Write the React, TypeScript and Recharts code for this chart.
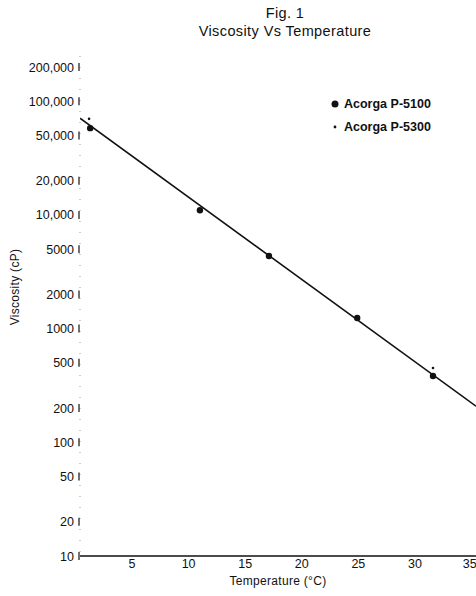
import { Scatter, ScatterChart, XAxis, YAxis } from "recharts";

// values
const TEMPS_5100 = [1.3, 11.0, 17.1, 24.9, 31.6];
const VISC_5100 = [58000, 11000, 4350, 1240, 383];
const TEMPS_5300 = [1.2, 31.6];
const VISC_5300 = [70000, 450];
const FIT_TEMPS = [0.4, 35.4];
const FIT_VISC = [71000, 208];

const X_TICKS = [5, 10, 15, 20, 25, 30, 35];
const Y_TICKS = [10, 20, 50, 100, 200, 500, 1000, 2000, 5000, 10000, 20000, 50000, 100000, 200000];
const Y_TICK_LABELS = ["10", "20", "50", "100", "200", "500", "1000", "2000", "5000", "10,000", "20,000", "50,000", "100,000", "200,000"];
const SERIES_NAMES = ["Acorga P-5100", "Acorga P-5300"];

const toRows = (xs: number[], ys: number[]) => xs.map((t, i) => ({ t, v: ys[i] }));

const FONT = "'Liberation Sans', Arial, sans-serif";
const INK = "#111";

function YTick({ x, y, payload }: any) {
  const idx = Y_TICKS.indexOf(payload.value);
  return (
    <g>
      <text x={x - 6} y={y} dy={4.5} textAnchor="end" fontSize={12.5} fill={INK} fontFamily={FONT}>
        {Y_TICK_LABELS[idx]}
      </text>
      <line x1={x - 1} x2={x - 1} y1={y - 4} y2={y + 4} stroke={INK} strokeWidth={1.2} />
    </g>
  );
}

function Dot5100({ cx, cy }: any) {
  return <circle cx={cx} cy={cy} r={3.2} fill={INK} />;
}

function Dot5300({ cx, cy }: any) {
  return <circle cx={cx} cy={cy} r={1.3} fill={INK} />;
}

function NoDot() {
  return <g />;
}

function LegendBox() {
  return (
    <div style={{ position: "absolute", left: 330, top: 92, fontSize: 12.5, fontWeight: "bold", color: INK }}>
      {SERIES_NAMES.map((name, i) => (
        <div key={name} style={{ display: "flex", alignItems: "center", height: 23 }}>
          <svg width={14} height={10}>
            <circle cx={5} cy={5} r={i === 0 ? 3.5 : 1.4} fill={INK} />
          </svg>
          <span>{name}</span>
        </div>
      ))}
    </div>
  );
}

export default function App() {
  return (
    <div style={{ position: "absolute", left: 0, top: 0, width: 476, height: 596, background: "#fff", fontFamily: FONT, color: INK }}>
      <div style={{ position: "absolute", left: 0, width: 570, top: 5, textAlign: "center", fontSize: 14.5, letterSpacing: 0.4 }}>Fig. 1</div>
      <div style={{ position: "absolute", left: 0, width: 570, top: 23, textAlign: "center", fontSize: 14.5, letterSpacing: 0.4 }}>
        Viscosity Vs Temperature
      </div>
      <div
        style={{
          position: "absolute",
          left: 15,
          top: 287,
          transform: "translate(-50%, -50%) rotate(-90deg)",
          whiteSpace: "nowrap",
          fontSize: 12,
          letterSpacing: 0.3,
        }}
      >
        Viscosity (cP)
      </div>
      <div style={{ position: "absolute", left: 0, width: 556, top: 574, textAlign: "center", fontSize: 12, letterSpacing: 0.3 }}>
        Temperature (°C)
      </div>
      <ScatterChart width={476} height={596} margin={{ top: 56, right: 0, bottom: 10, left: 0 }}>
        <XAxis
          xAxisId="top"
          orientation="top"
          type="number"
          dataKey="t"
          domain={[0.4, 35.4]}
          height={0}
          tick={false}
          tickLine={false}
          axisLine={{ stroke: INK, strokeWidth: 1.6 }}
        />
        <XAxis
          type="number"
          dataKey="t"
          domain={[0.4, 35.4]}
          ticks={X_TICKS}
          height={30}
          tickSize={0}
          tickMargin={3}
          tickLine={false}
          axisLine={{ stroke: INK, strokeWidth: 1.6 }}
          tick={{ fontSize: 12.5, fill: INK, fontFamily: FONT }}
          allowDataOverflow
        />
        <YAxis
          type="number"
          dataKey="v"
          scale="log"
          domain={[10, 250000]}
          ticks={Y_TICKS}
          width={80}
          tickSize={0}
          tickMargin={0}
          tickLine={false}
          axisLine={{ stroke: "#999", strokeDasharray: "1 10" }}
          tick={<YTick />}
          allowDataOverflow
        />
        <Scatter
          name="fit"
          data={toRows(FIT_TEMPS, FIT_VISC)}
          line={{ stroke: INK, strokeWidth: 1.6 }}
          shape={<NoDot />}
          legendType="none"
          isAnimationActive={false}
        />
        <Scatter name={SERIES_NAMES[0]} data={toRows(TEMPS_5100, VISC_5100)} shape={<Dot5100 />} isAnimationActive={false} />
        <Scatter name={SERIES_NAMES[1]} data={toRows(TEMPS_5300, VISC_5300)} shape={<Dot5300 />} isAnimationActive={false} />
      </ScatterChart>
      <LegendBox />
    </div>
  );
}
